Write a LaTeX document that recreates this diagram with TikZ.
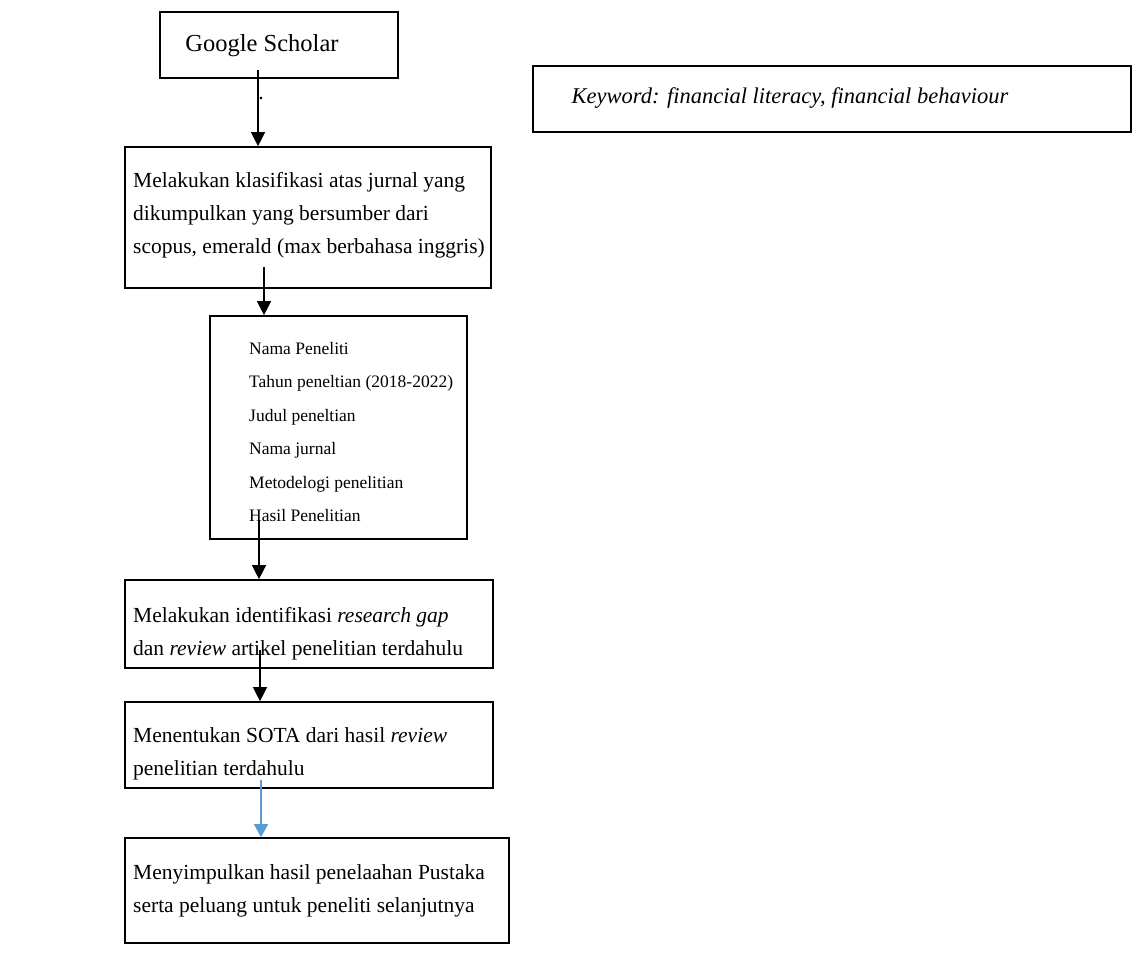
\documentclass[tikz,border=0pt]{standalone}
\usepackage{fontspec}
\setmainfont{Liberation Serif}
\usetikzlibrary{arrows.meta,calc}
\definecolor{wordblue}{RGB}{91,155,213}
\begin{document}
\begin{tikzpicture}[x=1pt,y=-1pt,
  box/.style={draw=black,line width=1.7pt,rectangle,inner sep=0pt},
  txt/.style={inner sep=0pt,anchor=west,align=left,font=\fontsize{21.5}{33}\selectfont},
  conn/.style={line width=1.4pt,-{Triangle[length=14pt,width=14pt]}},
  blueconn/.style={line width=1.2pt,draw=wordblue,-{Triangle[length=13pt,width=14pt,fill=wordblue]}}]
\useasboundingbox (0,0) rectangle (1132,970);
% boxes (center, size)
\node[box,minimum width=238pt,minimum height=66pt] (b1) at (279,45) {};
\node[box,minimum width=366pt,minimum height=141pt] (b2) at (308,217.5) {};
\node[box,minimum width=257pt,minimum height=223pt] (b3) at (338.5,427.5) {};
\node[box,minimum width=368pt,minimum height=88pt] (b4) at (309,624) {};
\node[box,minimum width=368pt,minimum height=86pt] (b5) at (309,745) {};
\node[box,minimum width=384pt,minimum height=105pt] (b6) at (317,890.5) {};
\node[box,minimum width=598pt,minimum height=66pt] (kw) at (832,99) {};
% texts
\node[txt,anchor=center,font=\fontsize{24.5}{33}\selectfont] (t1) at (262,46) {Google Scholar};
\node[txt] (t2) at (133,215.5)
  {Melakukan klasifikasi atas jurnal yang\\dikumpulkan yang bersumber dari\\scopus, emerald (max berbahasa inggris)};
\node[txt,font=\fontsize{17.5}{33.4}\selectfont] (t3) at (249,432)
  {Nama Peneliti\\Tahun peneltian (2018-2022)\\Judul peneltian\\Nama jurnal\\Metodelogi penelitian\\Hasil Penelitian};
\node[txt] (t4) at (133,633.5)
  {Melakukan identifikasi \emph{research gap}\\dan \emph{review} artikel penelitian terdahulu};
\node[txt] (t5) at (133,753.5)
  {Menentukan SOTA dari hasil \emph{review}\\penelitian terdahulu};
\node[txt] (t6) at (133,890.5)
  {Menyimpulkan hasil penelaahan Pustaka\\serta peluang untuk peneliti selanjutnya};
\node[txt,anchor=center,font=\fontsize{22.5}{33}\selectfont] (tk) at (790,98)
  {\emph{Keyword: financial literacy, financial behaviour}};
\node[inner sep=0pt,anchor=base,font=\fontsize{21.5}{33}\selectfont] (dot) at (261,99) {.};
% connector starts
\coordinate (s1) at (258,70);
\coordinate (s2) at (264,267);
\coordinate (s3) at (259,520);
\coordinate (s4) at (260,650);
\coordinate (s5) at (261,780);
\draw[conn] (s1) -- (s1 |- b2.north);
\draw[conn] (s2) -- (s2 |- b3.north);
\draw[conn] (s3) -- (s3 |- b4.north);
\draw[conn] (s4) -- (s4 |- b5.north);
\draw[blueconn] (s5) -- (s5 |- b6.north);
\end{tikzpicture}
\end{document}
